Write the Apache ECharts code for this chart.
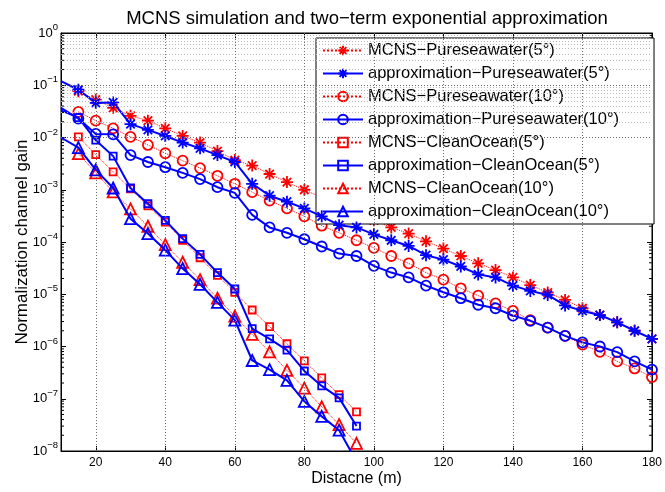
<!DOCTYPE html>
<html><head><meta charset="utf-8">
<script src="https://cdn.jsdelivr.net/npm/echarts@6/dist/echarts.min.js"></script>
<style>html,body{margin:0;padding:0;background:#fff}#c{width:665px;height:492px}</style>
</head><body><div id="c"></div><script>
// ---- data ----
const distMCNS = [15,20,25,30,35,40,45,50,55,60,65,70,75,80,85,90,95,100,105,110,115,120,125,130,135,140,145,150,155,160,165,170,175,180];
const distApprox = [10,15,20,25,30,35,40,45,50,55,60,65,70,75,80,85,90,95,100,105,110,115,120,125,130,135,140,145,150,155,160,165,170,175,180];
const distCleanMCNS = [15,20,25,30,35,40,45,50,55,60,65,70,75,80,85,90,95];
const distCleanApprox = [10,15,20,25,30,35,40,45,50,55,60,65,70,75,80,85,90,95];

const mcnsPure5 = [7.7e-2,5.3e-2,3.7e-2,2.6e-2,2.1e-2,1.5e-2,1.07e-2,8.0e-3,5.5e-3,3.7e-3,2.9e-3,2.0e-3,1.4e-3,1.0e-3,7.1e-4,5.0e-4,3.6e-4,2.6e-4,1.9e-4,1.45e-4,1.03e-4,7.5e-5,5.4e-5,3.9e-5,2.9e-5,2.1e-5,1.5e-5,1.08e-5,7.8e-6,5.4e-6,4.0e-6,2.9e-6,2.0e-6,1.4e-6];
const approxPure5 = [1.2e-1,8.2e-2,4.6e-2,4.7e-2,1.8e-2,1.4e-2,1.07e-2,8.0e-3,6.2e-3,4.6e-3,3.4e-3,1.3e-3,7.7e-4,5.9e-4,4.4e-4,3.1e-4,2.1e-4,1.9e-4,1.4e-4,1.08e-4,8.4e-5,5.6e-5,4.6e-5,3.4e-5,2.4e-5,2.1e-5,1.46e-5,1.16e-5,9.7e-6,6.1e-6,4.8e-6,4.0e-6,2.9e-6,2.0e-6,1.4e-6];
const mcnsPure10 = [3.1e-2,2.1e-2,1.5e-2,1.03e-2,7.2e-3,5.0e-3,3.6e-3,2.6e-3,1.85e-3,1.3e-3,9.0e-4,6.2e-4,4.4e-4,3.1e-4,2.05e-4,1.5e-4,1.08e-4,7.7e-5,5.4e-5,3.9e-5,2.6e-5,1.9e-5,1.3e-5,9.4e-6,6.7e-6,4.8e-6,3.2e-6,2.3e-6,1.6e-6,1.09e-6,7.9e-7,5.2e-7,3.8e-7,2.6e-7];
const approxPure10 = [3.7e-2,2.3e-2,1.17e-2,1.15e-2,4.6e-3,3.4e-3,2.7e-3,2.1e-3,1.6e-3,1.12e-3,8.7e-4,3.3e-4,1.9e-4,1.5e-4,1.13e-4,8.2e-5,6.0e-5,5.4e-5,3.5e-5,2.6e-5,2.1e-5,1.46e-5,1.09e-5,8.4e-6,6.3e-6,5.4e-6,3.9e-6,3.1e-6,2.3e-6,1.6e-6,1.2e-6,1.0e-6,7.8e-7,5.2e-7,3.6e-7];
const mcnsClean5 = [1.03e-2,4.7e-3,2.2e-3,1.04e-3,4.9e-4,2.4e-4,1.08e-4,5.0e-5,2.3e-5,1.09e-5,5.0e-6,2.4e-6,1.13e-6,5.3e-7,2.5e-7,1.2e-7,5.6e-8];
const approxClean5 = [3.3e-2,2.4e-2,8.9e-3,4.4e-3,1.08e-3,5.4e-4,2.6e-4,1.16e-4,5.8e-5,2.6e-5,1.26e-5,2.2e-6,1.4e-6,8.5e-7,3.4e-7,1.76e-7,1.04e-7,3.0e-8];
const mcnsClean10 = [4.9e-3,2.1e-3,9.1e-4,4.3e-4,2.0e-4,8.9e-5,4.1e-5,1.9e-5,8.4e-6,3.8e-6,1.7e-6,7.9e-7,3.5e-7,1.6e-7,7.0e-8,3.2e-8,1.4e-8];
const approxClean10 = [1.0e-2,6.4e-3,2.4e-3,1.08e-3,2.8e-4,1.45e-4,7.0e-5,3.1e-5,1.55e-5,7.0e-6,3.2e-6,5.4e-7,3.6e-7,2.25e-7,8.9e-8,4.6e-8,2.5e-8,6.3e-9];

const xTickValues = [20,40,60,80,100,120,140,160,180];
const seriesNames = ['MCNS\u2212Pureseawater(5\u00b0)','approximation\u2212Pureseawater(5\u00b0)','MCNS\u2212Pureseawater(10\u00b0)','approximation\u2212Pureseawater(10\u00b0)','MCNS\u2212CleanOcean(5\u00b0)','approximation\u2212CleanOcean(5\u00b0)','MCNS\u2212CleanOcean(10\u00b0)','approximation\u2212CleanOcean(10\u00b0)'];

// ---- styling ----
const FONT = 'Liberation Sans, Arial, Helvetica, sans-serif';
const RED = '#ff0000', BLUE = '#0000ff';
const STAR = 'path://M0,-10L0,10M-10,0L10,0M-7.07,-7.07L7.07,7.07M-7.07,7.07L7.07,-7.07';

function pts(xs, ys, firstHidden) {
  return xs.map((x, i) => (firstHidden && i === 0) ? {value: [x, ys[i]], symbol: 'none'} : [x, ys[i]]);
}
function mk(name, xs, ys, isApprox, symbol, size, z) {
  const col = isApprox ? BLUE : RED;
  const filled = symbol === STAR;
  return {
    name: name, type: 'line', z: z,
    data: pts(xs, ys, isApprox),
    symbol: symbol, symbolSize: size, showAllSymbol: true,
    lineStyle: isApprox ? {color: col, width: 2, type: 'solid'} : {color: col, width: 1, type: 'dotted'},
    itemStyle: {color: filled ? col : 'rgba(0,0,0,0)', borderColor: col, borderWidth: 1.8},
    emphasis: {disabled: true},
    animation: false
  };
}

// grid lines (major & minor decades, x majors)
const gridLines = [];
for (let e = -8; e <= -1; e++) {
  for (let k = 2; k <= 9; k++) {
    gridLines.push({yAxis: k * Math.pow(10, e), lineStyle: {color: '#b8b8b8', type: [1, 2], width: 1}});
  }
  if (e > -8) gridLines.push({yAxis: Math.pow(10, e), lineStyle: {color: '#6a6a6a', type: [1, 2], width: 1}});
}
xTickValues.slice(0, -1).forEach(v => gridLines.push({xAxis: v, lineStyle: {color: '#6a6a6a', type: [1, 2], width: 1}}));

const minorTickData = [];
for (let e = -8; e <= -1; e++) for (let k = 2; k <= 9; k++) minorTickData.push([10, k * Math.pow(10, e)]);

const chart = echarts.init(document.getElementById('c'), null, {renderer: 'canvas'});
chart.setOption({
  animation: false,
  backgroundColor: '#fff',
  textStyle: {fontFamily: FONT},
  title: {
    text: 'MCNS simulation and two\u2212term exponential approximation',
    left: 362, textAlign: 'center', top: 4,
    textStyle: {fontSize: 18.5, fontWeight: 'normal', color: '#000', fontFamily: FONT}
  },
  grid: {left: 61, right: 7, top: 33, bottom: 38, show: true, borderColor: '#000', borderWidth: 1, backgroundColor: '#fff'},
  legend: {
    data: seriesNames,
    orient: 'vertical', left: 316, top: 38,
    padding: [4, 35, 4, 6],
    itemWidth: 40, itemHeight: 12, itemGap: 6,
    backgroundColor: '#fff', borderColor: '#000', borderWidth: 1,
    textStyle: {fontSize: 16.5, color: '#000', fontFamily: FONT, lineHeight: 17},
    selectedMode: false
  },
  xAxis: [{
    type: 'value', min: 10, max: 180,
    name: 'Distacne (m)', nameLocation: 'middle', nameGap: 20, nameMoveOverlap: false,
    nameTextStyle: {fontSize: 16, color: '#000', fontFamily: FONT},
    axisLine: {lineStyle: {color: '#000', width: 1}},
    axisTick: {inside: true, length: 5, lineStyle: {color: '#000'}, customValues: xTickValues},
    axisLabel: {customValues: xTickValues, fontSize: 12, color: '#000', margin: 6, fontFamily: FONT},
    splitLine: {show: false}
  }, {
    type: 'value', min: 10, max: 180, position: 'top',
    axisLine: {lineStyle: {color: '#000', width: 1}},
    axisTick: {inside: true, length: 5, lineStyle: {color: '#000'}, customValues: xTickValues},
    axisLabel: {show: false},
    splitLine: {show: false}
  }],
  yAxis: [{
    type: 'log', logBase: 10, min: 1e-8, max: 1,
    name: 'Normalization channel gain', nameLocation: 'middle', nameGap: 30, nameMoveOverlap: false,
    nameTextStyle: {fontSize: 17, color: '#000', fontFamily: FONT},
    axisLine: {lineStyle: {color: '#000', width: 1}},
    axisTick: {inside: true, length: 5, lineStyle: {color: '#000'}},
    axisLabel: {
      margin: 3, color: '#000',
      formatter: function (v) {
        const e = Math.round(Math.log10(v));
        return '{b|10}{s|' + (e < 0 ? '\u2212' + (-e) : String(e)) + '}';
      },
      rich: {
        b: {fontSize: 13, lineHeight: 13, verticalAlign: 'bottom', color: '#000', fontFamily: FONT},
        s: {fontSize: 9.5, lineHeight: 10, padding: [0, 0, 7, 0], verticalAlign: 'bottom', color: '#000', fontFamily: FONT}
      }
    },
    splitLine: {show: false}
  }, {
    type: 'log', logBase: 10, min: 1e-8, max: 1, position: 'right',
    axisLine: {lineStyle: {color: '#000', width: 1}},
    axisTick: {inside: true, length: 5, lineStyle: {color: '#000'}},
    axisLabel: {show: false},
    splitLine: {show: false}
  }],
  series: [
    {
      name: 'grid', type: 'line', data: [], z: 1, silent: true, animation: false,
      markLine: {silent: true, symbol: ['none', 'none'], label: {show: false}, animation: false, data: gridLines}
    },
    {
      name: 'minorTicks', type: 'custom', z: 1, silent: true, animation: false,
      data: minorTickData,
      renderItem: function (params, api) {
        const y = api.coord([api.value(0), api.value(1)])[1];
        const l = params.coordSys.x, r = l + params.coordSys.width;
        return {type: 'group', children: [
          {type: 'line', shape: {x1: l, y1: y, x2: l + 3, y2: y}, style: {stroke: '#000', lineWidth: 1}},
          {type: 'line', shape: {x1: r - 3, y1: y, x2: r, y2: y}, style: {stroke: '#000', lineWidth: 1}}
        ]};
      }
    },
    mk(seriesNames[0], distMCNS, mcnsPure5, false, STAR, 12, 3),
    mk(seriesNames[1], distApprox, approxPure5, true, STAR, 12, 4),
    mk(seriesNames[2], distMCNS, mcnsPure10, false, 'circle', 10, 3),
    mk(seriesNames[3], distApprox, approxPure10, true, 'circle', 10, 4),
    mk(seriesNames[4], distCleanMCNS, mcnsClean5, false, 'rect', 7, 3),
    mk(seriesNames[5], distCleanApprox, approxClean5, true, 'rect', 7, 4),
    mk(seriesNames[6], distCleanMCNS, mcnsClean10, false, 'triangle', 11, 3),
    mk(seriesNames[7], distCleanApprox, approxClean10, true, 'triangle', 11, 4)
  ]
});
</script></body></html>
